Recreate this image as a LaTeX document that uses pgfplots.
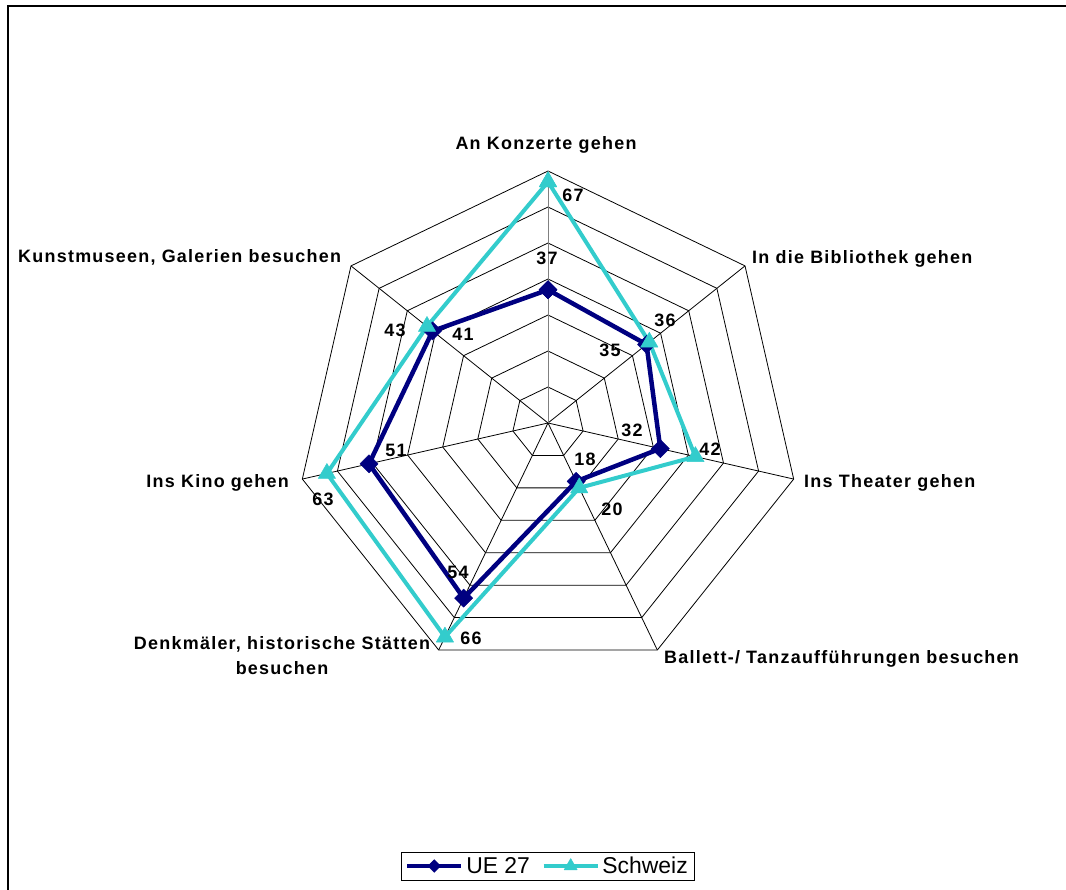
\documentclass[border=0pt]{standalone}
\usepackage{pgfplots}
\pgfplotsset{compat=1.18}
\usepgfplotslibrary{polar}
\usepackage{fontspec}
\setmainfont{Liberation Sans}
\newfontfamily\lblfont[LetterSpace=7]{Liberation Sans}
\definecolor{navyc}{RGB}{0,0,128}
\definecolor{turq}{RGB}{51,204,204}
\newcommand\lf{\lblfont\bfseries\fontsize{18}{21}\selectfont}
\pgfplotsset{
  navyleg/.style={legend image code/.code={\draw[##1, line width=4bp, mark size=4.5bp, mark repeat=2, mark phase=2] plot coordinates {(0bp,0bp) (27bp,0bp) (54bp,0bp)};}},
  turqleg/.style={legend image code/.code={\draw[##1, line width=3.5bp, mark size=7.5bp, mark repeat=2, mark phase=2] plot coordinates {(0bp,0bp) (27bp,0bp) (54bp,0bp)};}},
}
\begin{document}
\begin{tikzpicture}[x=1bp,y=1bp]
\useasboundingbox (0,0) rectangle (1066,890);
\draw[line width=1.5bp] (8,-10) -- (8,884) -- (1080,884);
\begin{polaraxis}[
  at={(548bp,467bp)}, anchor=center,
  scale only axis, width=504bp, height=504bp,
  ymin=0, ymax=70, hide axis, clip=false,
  legend columns=2,
  legend style={at={(0.5,-0.379)}, anchor=center, draw=black, line width=0.8bp,
    font=\fontsize{23}{27}\selectfont, inner xsep=4bp, inner ysep=2bp,
    /tikz/every even column/.append style={column sep=9bp},
    nodes={inner sep=3bp}},
]
\pgfplotsinvokeforeach{10,20,30,40,50,60,70}{
\addplot[forget plot, black, line width=0.8bp, no marks] coordinates {(90,#1) (38.5714,#1) (347.1429,#1) (295.7143,#1) (244.2857,#1) (192.8571,#1) (141.4286,#1) (90,#1)};
}
\pgfplotsinvokeforeach{38.5714,347.1429,295.7143,244.2857,192.8571,141.4286}{
\addplot[forget plot, black, line width=0.8bp, no marks] coordinates {(#1,0) (#1,70)};
}
\addplot[forget plot, gray, line width=1bp, no marks] coordinates {(90,0) (90,70)};

\addplot[navyc, line width=4.5bp, line join=round, mark=square*, mark size=6.4bp,
  mark options={rotate=45, line width=0.5bp}, navyleg]
  coordinates {(90,37) (38.5714,35) (347.1429,32) (295.7143,18) (244.2857,54) (192.8571,51) (141.4286,41) (90,37)};
\addlegendentry{UE 27}
\addplot[turq, line width=4bp, line join=round, mark=triangle*, mark size=10bp,
  mark options={line width=0.5bp}, turqleg]
  coordinates {(90,67) (38.5714,36) (347.1429,42) (295.7143,20) (244.2857,66) (192.8571,63) (141.4286,43) (90,67)};
\addlegendentry{Schweiz}
\end{polaraxis}
% category labels
\node[inner sep=0, anchor=base] at (546,740) {\lf An Konzerte gehen};
\node[inner sep=0, anchor=base west] at (752,626) {\lf In die Bibliothek gehen};
\node[inner sep=0, anchor=base west] at (804,402) {\lf Ins Theater gehen};
\node[inner sep=0, anchor=base west] at (664,226) {\lf Ballett-/ Tanzaufführungen besuchen};
\node[inner sep=0, anchor=base] at (282,240) {\lf Denkmäler, historische Stätten};
\node[inner sep=0, anchor=base] at (282,215) {\lf besuchen};
\node[inner sep=0, anchor=base east] at (289,402) {\lf Ins Kino gehen};
\node[inner sep=0, anchor=base west] at (18,627) {\lf Kunstmuseen, Galerien besuchen};
% value labels
\node[inner sep=0] at (573,695) {\lf 67};
\node[inner sep=0] at (547,632) {\lf 37};
\node[inner sep=0] at (665,570) {\lf 36};
\node[inner sep=0] at (610,540) {\lf 35};
\node[inner sep=0] at (395,560) {\lf 43};
\node[inner sep=0] at (463,556) {\lf 41};
\node[inner sep=0] at (632,460) {\lf 32};
\node[inner sep=0] at (710,441) {\lf 42};
\node[inner sep=0] at (585,431) {\lf 18};
\node[inner sep=0] at (612,381) {\lf 20};
\node[inner sep=0] at (396,440) {\lf 51};
\node[inner sep=0] at (323,391) {\lf 63};
\node[inner sep=0] at (458,318) {\lf 54};
\node[inner sep=0] at (471,252) {\lf 66};
\end{tikzpicture}
\end{document}
